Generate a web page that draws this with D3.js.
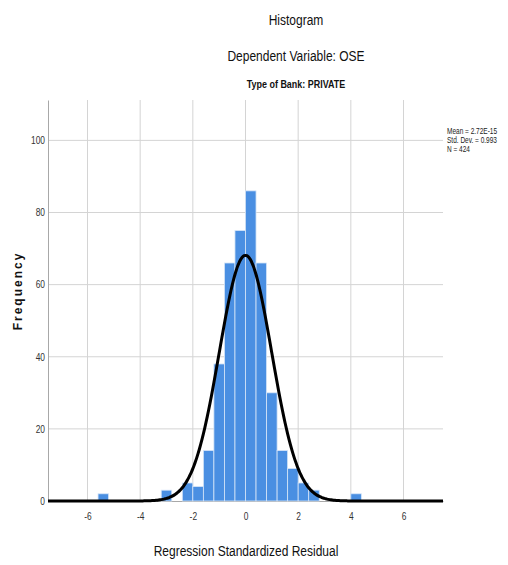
<!DOCTYPE html>
<html>
<head>
<meta charset="utf-8">
<script src="https://cdnjs.cloudflare.com/ajax/libs/d3/7.8.5/d3.min.js"></script>
<style>
  html, body { margin: 0; padding: 0; background: #fff; }
  svg { display: block; }
  text { font-family: "Liberation Sans", Arial, sans-serif; }
</style>
</head>
<body>
<svg id="chart" width="508" height="565"></svg>
<script>
// ---- data ----
const binStarts = [-5.6, -3.2, -2.4, -2.0, -1.6, -1.2, -0.8, -0.4, 0.0, 0.4, 0.8, 1.2, 1.6, 2.0, 2.4, 4.0];
const binCounts = [2, 3, 5, 4, 14, 38, 66, 75, 86, 66, 30, 14, 9, 5, 3, 2];
const binWidth = 0.4;
const xTicks = [-6, -4, -2, 0, 2, 4, 6];
const yTicks = [0, 20, 40, 60, 80, 100];
const statMean = 2.72e-15;
const statSD = 0.993;
const statN = 424;
const legendLines = ["Mean = 2.72E-15", "Std. Dev. = 0.993", "N = 424"];
const titles = ["Histogram", "Dependent Variable: OSE"];
const subtitle = "Type of Bank: PRIVATE";
const xLabel = "Regression Standardized Residual";
const yLabel = "Frequency";

// ---- layout ----
const NARROW = 0.8; // horizontal condensing to imitate a narrow face
const svg = d3.select("#chart");
const pLeft = 48, pRight = 443, pTop = 100, pBottom = 501;
const x = d3.scaleLinear().domain([-7.5, 7.5]).range([pLeft, pRight]);
const y = d3.scaleLinear().domain([0, 111.2]).range([pBottom, pTop]);

function narrowText(parent, tx, ty, str, size, opts = {}) {
  const sx = opts.sx || NARROW;
  return parent.append("text")
    .attr("transform", `translate(${tx},${ty}) scale(${sx},1)`)
    .attr("text-anchor", opts.anchor || "middle")
    .attr("font-size", size)
    .attr("font-weight", opts.weight || "normal")
    .attr("fill", opts.fill || "#000")
    .text(str);
}

// gridlines
const grid = svg.append("g");
grid.selectAll("line.v").data(xTicks).join("line").attr("class", "v")
  .attr("x1", d => x(d)).attr("x2", d => x(d))
  .attr("y1", pTop).attr("y2", pBottom)
  .attr("stroke", "#d4d4d4").attr("stroke-width", 1);
grid.selectAll("line.h").data(yTicks.filter(d => d > 0)).join("line").attr("class", "h")
  .attr("x1", pLeft).attr("x2", pRight)
  .attr("y1", d => y(d)).attr("y2", d => y(d))
  .attr("stroke", "#d4d4d4").attr("stroke-width", 1);

// axes
const yAxis = d3.axisLeft(y).tickValues(yTicks).tickSize(0).tickPadding(3).tickFormat(d => String(d));
const gy = svg.append("g").attr("transform", `translate(${pLeft},0)`).call(yAxis);
gy.select(".domain").attr("stroke", "#a8a8a8");
gy.selectAll("text").attr("font-size", 10.5).attr("fill", "#333")
  .attr("x", -3 / NARROW).attr("transform", `scale(${NARROW},1)`);

const xAxis = d3.axisBottom(x).tickValues(xTicks).tickSize(0).tickPadding(12).tickFormat(d => String(d));
const gx = svg.append("g").attr("transform", `translate(0,${pBottom})`).call(xAxis);
gx.select(".domain").attr("stroke", "#a8a8a8");
gx.selectAll("text").attr("font-size", 10.5).attr("fill", "#333")
  .attr("transform", `scale(${NARROW},1)`);

// bars
svg.append("g").selectAll("rect").data(binStarts.map((s, i) => ({s, c: binCounts[i]}))).join("rect")
  .attr("x", d => x(d.s))
  .attr("width", d => x(d.s + binWidth) - x(d.s))
  .attr("y", d => y(d.c))
  .attr("height", d => y(0) - y(d.c))
  .attr("fill", "#4a8fe2")
  .attr("stroke", "#d6e5f8").attr("stroke-width", 0.8);

// normal curve from the stated mean, sd and N
const pts = d3.range(-7.5, 7.5001, 0.05).map(v => {
  const z = (v - statMean) / statSD;
  return [v, statN * binWidth * Math.exp(-0.5 * z * z) / (statSD * Math.sqrt(2 * Math.PI))];
});
svg.append("path").datum(pts)
  .attr("d", d3.line().x(d => x(d[0])).y(d => y(d[1])).curve(d3.curveBasis))
  .attr("fill", "none").attr("stroke", "#000").attr("stroke-width", 3);

// titles
narrowText(svg, 296, 25, titles[0], 15, {fill: "#111"});
narrowText(svg, 296, 61, titles[1], 15, {fill: "#111"});
narrowText(svg, 296, 88, subtitle, 11.5, {weight: "bold", fill: "#111", sx: 0.78});

// axis labels
narrowText(svg, 246, 556, xLabel, 15, {fill: "#111"});
svg.append("text").attr("transform", "translate(22,291) rotate(-90)")
  .attr("text-anchor", "middle")
  .attr("font-size", 12).attr("font-weight", "bold").attr("letter-spacing", 2).attr("fill", "#111").text(yLabel);

// legend
const lg = svg.append("g");
legendLines.forEach((t, i) => narrowText(lg, 447, 134 + i * 9, t, 8.8, {anchor: "start", fill: "#222", sx: 0.74}));
</script>
</body>
</html>
